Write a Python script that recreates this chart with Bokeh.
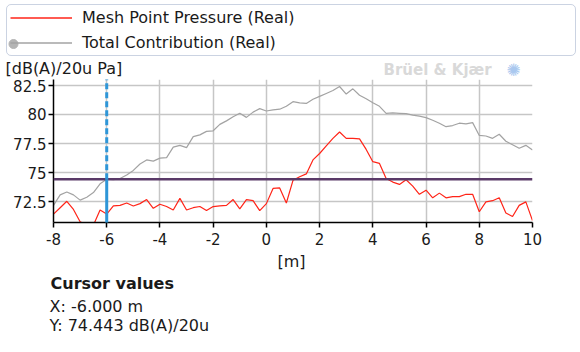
from bokeh.plotting import figure
from bokeh.layouts import column
from bokeh.models import (ColumnDataSource, Range1d, FixedTicker, Span, Label,
                          Legend, LegendItem, Plot)
from bokeh.embed import file_html
from bokeh.resources import INLINE

# ---------------- data ----------------
position_m = [-8.0, -7.75, -7.5, -7.25, -7.0, -6.75, -6.5, -6.25, -6.0, -5.75,
              -5.5, -5.25, -5.0, -4.75, -4.5, -4.25, -4.0, -3.75, -3.5, -3.25,
              -3.0, -2.75, -2.5, -2.25, -2.0, -1.75, -1.5, -1.25, -1.0, -0.75,
              -0.5, -0.25, 0.0, 0.25, 0.5, 0.75, 1.0, 1.25, 1.5, 1.75,
              2.0, 2.25, 2.5, 2.75, 3.0, 3.25, 3.5, 3.75, 4.0, 4.25,
              4.5, 4.75, 5.0, 5.25, 5.5, 5.75, 6.0, 6.25, 6.5, 6.75,
              7.0, 7.25, 7.5, 7.75, 8.0, 8.25, 8.5, 8.75, 9.0, 9.25,
              9.5, 9.75, 10.0]

mesh_point_pressure = [71.45, 72.0, 72.55, 71.85, 70.8, 70.5, 70.5, 71.8, 71.45, 72.15,
                       72.2, 72.4, 72.15, 72.35, 72.7, 71.95, 72.3, 72.1, 71.8, 72.8,
                       71.8, 72.0, 72.1, 71.75, 72.1, 72.15, 72.2, 72.7, 71.9, 72.7,
                       72.6, 71.75, 72.35, 73.65, 73.7, 72.4, 74.35, 74.65, 74.9, 76.1,
                       76.65, 77.3, 77.95, 78.5, 77.95, 77.95, 77.9, 77.0, 75.95, 75.8,
                       74.5, 74.2, 74.0, 74.4, 73.85, 73.15, 73.5, 72.85, 73.25, 72.85,
                       72.95, 72.95, 73.15, 73.15, 71.65, 72.5, 72.6, 72.85, 71.55, 71.25,
                       72.2, 72.5, 70.9]

total_contribution = [72.2, 73.1, 73.35, 73.1, 72.65, 72.9, 73.3, 74.05, 74.44, 74.4,
                      74.5, 74.8, 75.2, 75.75, 76.1, 76.0, 76.25, 76.3, 77.2, 77.35,
                      77.15, 78.1, 78.25, 78.55, 78.6, 79.15, 79.45, 79.8, 80.1, 79.75,
                      80.2, 80.5, 80.3, 80.4, 80.45, 80.7, 81.1, 81.0, 80.95, 81.3,
                      81.55, 81.8, 82.05, 82.4, 81.75, 82.2, 81.65, 81.35, 81.0, 80.7,
                      80.1, 80.13, 80.1, 80.07, 79.95, 79.85, 79.73, 79.5, 79.25, 78.95,
                      79.05, 79.25, 79.2, 79.3, 78.2, 78.15, 77.95, 78.3, 77.7, 77.4,
                      77.1, 77.35, 76.95]

x_ticks = [-8, -6, -4, -2, 0, 2, 4, 6, 8, 10]
x_tick_labels = ["-8", "-6", "-4", "-2", "0", "2", "4", "6", "8", "10"]
y_ticks = [72.5, 75, 77.5, 80, 82.5]
y_tick_labels = ["72.5", "75", "77.5", "80", "82.5"]

series_names = ["Mesh Point Pressure (Real)", "Total Contribution (Real)"]
y_unit = "[dB(A)/20u Pa]"
x_unit = "[m]"
cursor_x = -6.0
cursor_y = 74.443
cursor_title = "Cursor values"
cursor_x_text = "X: -6.000 m"
cursor_y_text = "Y: 74.443 dB(A)/20u"
brand = "Brüel & Kjær"

x_min, x_max = -8.0, 10.0
y_min, y_max = 70.73, 83.0

# ---------------- styling / layout constants ----------------
FONT = "DejaVu Sans"
TXT = "#1a1a1a"
RED = "#ff2418"
GREY = "#a3a3a3"
W = 580
TOP_H = 79            # header strip (legend, unit label, brand)
M_TOP, M_BOT = 0, 29  # main figure borders
FRAME_H = 143
MAIN_H = M_TOP + FRAME_H + M_BOT
BOT_H = 352 - TOP_H - MAIN_H
DY = -6               # label baseline correction
HAS_FRAME_ALIGN = "frame_align" in Plot.properties()

def no_align(f):
    if HAS_FRAME_ALIGN:
        f.frame_align = False
    return f

def strip(h):
    f = figure(width=W, height=h, output_backend="svg", toolbar_location=None,
               x_range=Range1d(0, W), y_range=Range1d(h, 0),
               x_axis_type=None, y_axis_type=None,
               min_border=0, min_border_left=0, min_border_right=0,
               min_border_top=0, min_border_bottom=0,
               background_fill_color="white", border_fill_color="white")
    f.outline_line_color = None
    f.grid.visible = False
    return no_align(f)

def lab(fig, text, px, py, size="16px", bold=False, color=TXT, align="left",
        baseline="alphabetic"):
    fig.add_layout(Label(x=px, y=py + DY, text=text, text_font=FONT, text_font_size=size,
                         text_font_style="bold" if bold else "normal",
                         text_color=color, text_align=align, text_baseline=baseline))

# ---------------- header strip ----------------
top = strip(TOP_H)
proxy = ColumnDataSource(dict(x=[float("nan")], y=[float("nan")]))
lg_mesh = top.line("x", "y", source=proxy, line_color=RED, line_width=1.3)
lg_total = top.line("x", "y", source=proxy, line_color=GREY, line_width=1.3)

LEG_X, LEG_TOP, LEG_PAD, ITEM_H, ITEM_GAP = 6, 6, 3, 19, 6
LEG_BOTTOM = LEG_TOP + 2 * LEG_PAD + 2 * ITEM_H + ITEM_GAP
# marker at the left end of the grey legend sample (under a transparent legend)
top.scatter(x=[LEG_X + 7], y=[LEG_TOP + LEG_PAD + 1.5 * ITEM_H + ITEM_GAP], size=9,
            marker="circle", fill_color="#b4b4b4", line_color="#b4b4b4")

legend = Legend(items=[LegendItem(label=series_names[0], renderers=[lg_mesh]),
                       LegendItem(label=series_names[1], renderers=[lg_total])],
                location=(LEG_X, TOP_H - LEG_BOTTOM), orientation="vertical",
                border_line_color="#98a8c6", border_line_width=1.5,
                background_fill_alpha=0.0,
                padding=LEG_PAD, spacing=ITEM_GAP, margin=0,
                glyph_width=62, glyph_height=ITEM_H, label_height=ITEM_H,
                label_standoff=10, label_width=490,
                label_text_font=FONT, label_text_font_size="16px",
                label_text_color=TXT)
if "border_radius" in Legend.properties():
    legend.border_radius = 5
top.add_layout(legend)

lab(top, y_unit, 5, 74)
lab(top, brand, 383, 75, size="15px", bold=True, color="#d9d9d9")
lab(top, "✺", 513, 75, size="17px", color="#a9c8ef", align="center")

# ---------------- main chart ----------------
p = figure(width=W, height=MAIN_H, output_backend="svg", toolbar_location=None,
           x_range=Range1d(x_min, x_max), y_range=Range1d(y_min, y_max),
           min_border_left=53, min_border_right=48,
           min_border_top=M_TOP, min_border_bottom=M_BOT,
           background_fill_color="white", border_fill_color="white")
p.outline_line_color = None
no_align(p)

for ax in (p.xaxis[0], p.yaxis[0]):
    ax.axis_line_color = "black"
    ax.axis_line_width = 1.5
    ax.major_tick_line_color = "black"
    ax.major_tick_line_width = 1.5
    ax.major_tick_in = 0
    ax.major_tick_out = 5
    ax.minor_tick_line_color = None
    ax.major_label_text_font = FONT
    ax.major_label_text_font_size = "15px"
    ax.major_label_text_color = TXT

p.xaxis.ticker = FixedTicker(ticks=x_ticks)
p.yaxis.ticker = FixedTicker(ticks=y_ticks)
p.xaxis.major_label_overrides = {t: s for t, s in zip(x_ticks, x_tick_labels)}
p.yaxis.major_label_overrides = {t: s for t, s in zip(y_ticks, y_tick_labels)}
p.xaxis.major_label_standoff = 5
p.yaxis.major_label_standoff = 2

p.grid.grid_line_color = "#c6c6c6"
p.grid.grid_line_width = 1.5

src = ColumnDataSource(dict(x=position_m, mesh=mesh_point_pressure, total=total_contribution))
p.line("x", "total", source=src, line_color=GREY, line_width=1.2)
p.line("x", "mesh", source=src, line_color=RED, line_width=1.2)

# cursor
p.add_layout(Span(location=cursor_y, dimension="width", line_color="#5a3a68", line_width=2.5))
seg_d = p.segment(x0=[cursor_x], y0=[cursor_y], x1=[cursor_x], y1=[y_max],
                  line_color="#2e96d8", line_width=3, line_dash="6 3")
seg_s = p.segment(x0=[cursor_x], y0=[y_min], x1=[cursor_x], y1=[cursor_y],
                  line_color="#2e96d8", line_width=3)
seg_d.level = "overlay"
seg_s.level = "overlay"

# ---------------- footer strip ----------------
bot = strip(BOT_H)
y0 = TOP_H + MAIN_H
lab(bot, x_unit, 277, 267 - y0)
lab(bot, cursor_title, 50, 289.3 - y0, bold=True)
lab(bot, cursor_x_text, 49, 311.5 - y0)
lab(bot, cursor_y_text, 49, 331 - y0)

layout = column(top, p, bot, spacing=0)
open("out.html", "w").write(file_html(layout, INLINE))
